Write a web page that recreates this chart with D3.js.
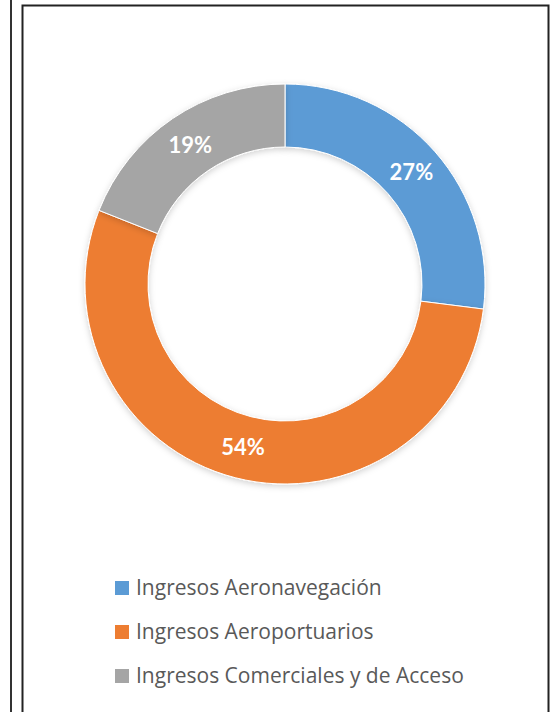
<!DOCTYPE html>
<html>
<head>
<meta charset="utf-8">
<script src="https://cdn.jsdelivr.net/npm/d3@7"></script>
<style>
  body { margin: 0; background: #fff; }
  text { font-family: Lato, "Open Sans", sans-serif; }
</style>
</head>
<body>
<script>
// data
var categories = ["Ingresos Aeronavegación", "Ingresos Aeroportuarios", "Ingresos Comerciales y de Acceso"];
var shares = [27, 54, 19];
var colors = ["#5B9BD5", "#ED7D31", "#A5A5A5"];

const width = 554;
const height = 712;

var svg = d3.select("body").append("svg")
    .attr("width", width)
    .attr("height", height);

// frame lines
svg.append("line").attr("x1", 11).attr("x2", 11).attr("y1", 0).attr("y2", height)
    .attr("stroke", "#333").attr("stroke-width", 2);
svg.append("path")
    .attr("d", "M22.5," + height + " V5.5 H548.5 V" + height)
    .attr("fill", "none").attr("stroke", "#222").attr("stroke-width", 2);

// soft shadow
var defs = svg.append("defs");
var f = defs.append("filter").attr("id", "shadow")
    .attr("x", "-20%").attr("y", "-20%").attr("width", "140%").attr("height", "140%");
f.append("feDropShadow").attr("dx", 0).attr("dy", 2).attr("stdDeviation", 3)
    .attr("flood-color", "#000").attr("flood-opacity", 0.18);

var cx = 285, cy = 284;
var outerR = 200, innerR = 137;

var pie = d3.pie().sort(null).value(function(d) { return d; });
var arc = d3.arc().innerRadius(innerR).outerRadius(outerR);

var g = svg.append("g").attr("transform", "translate(" + cx + "," + cy + ")");

g.selectAll("path")
    .data(pie(shares))
    .enter()
    .append("path")
    .attr("d", arc)
    .attr("fill", function(d, i) { return colors[i]; })
    .attr("stroke", "#fff")
    .attr("stroke-width", 1)
    .attr("filter", "url(#shadow)");

g.selectAll("text.lbl")
    .data(pie(shares))
    .enter()
    .append("text")
    .attr("class", "lbl")
    .attr("transform", function(d) { return "translate(" + arc.centroid(d) + ")"; })
    .attr("text-anchor", "middle")
    .attr("dy", "0.36em")
    .attr("fill", "#fff")
    .attr("font-weight", "bold")
    .attr("font-size", 22)
    .text(function(d) { return d.data + "%"; });

// legend
var legend = svg.append("g");
var rows = legend.selectAll("g")
    .data(categories)
    .enter()
    .append("g")
    .attr("transform", function(d, i) { return "translate(115," + (588 + i * 44) + ")"; });

rows.append("rect")
    .attr("x", 0).attr("y", -7)
    .attr("width", 14).attr("height", 14)
    .attr("fill", function(d, i) { return colors[i]; });

rows.append("text")
    .attr("x", 21)
    .attr("dy", "0.35em")
    .attr("fill", "#595959")
    .attr("font-size", 21)
    .style("font-family", "'Open Sans', sans-serif")
    .text(function(d) { return d; });
</script>
</body>
</html>
